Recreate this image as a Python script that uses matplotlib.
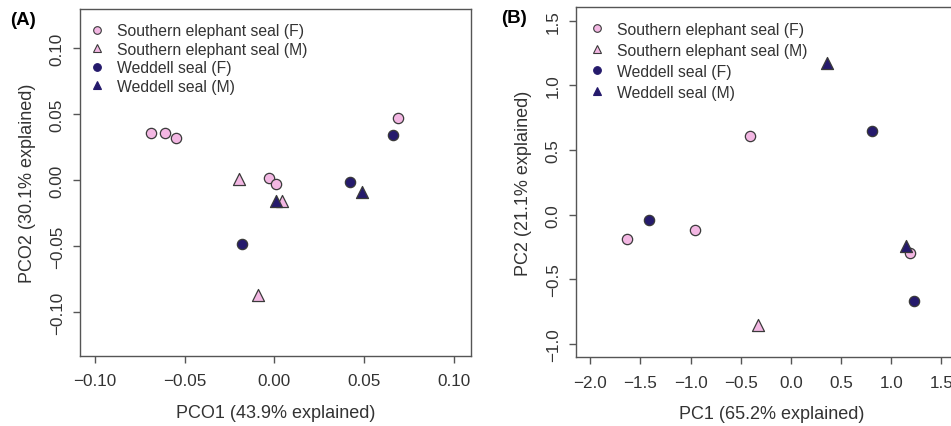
import matplotlib
matplotlib.use('Agg')
import matplotlib.pyplot as plt
from matplotlib.lines import Line2D

plt.rcParams['font.family'] = ['Liberation Sans', 'DejaVu Sans']

# colores
rosa = '#F3B7E3'
azul = '#251A6C'
borde = '#3a3a3a'
gris = '#555555'

# Panel A (PCO)
a_sel_f_x = [-0.069, -0.061, -0.055, -0.003, 0.001, 0.069]
a_sel_f_y = [0.036, 0.036, 0.032, 0.002, -0.003, 0.047]
a_sel_m_x = [-0.020, 0.004, -0.009]
a_sel_m_y = [0.001, -0.016, -0.087]
a_wed_f_x = [-0.018, 0.042, 0.066]
a_wed_f_y = [-0.048, -0.001, 0.034]
a_wed_m_x = [0.001, 0.049]
a_wed_m_y = [-0.016, -0.009]

# Panel B (PCA)
b_sel_f_x = [-0.41, -1.63, -0.96, 1.19]
b_sel_f_y = [0.61, -0.19, -0.12, -0.30]
b_sel_m_x = [-0.33]
b_sel_m_y = [-0.85]
b_wed_f_x = [0.81, -1.42, 1.23]
b_wed_f_y = [0.65, -0.04, -0.67]
b_wed_m_x = [0.36, 1.15]
b_wed_m_y = [1.17, -0.24]

etiquetas = ['Southern elephant seal (F)', 'Southern elephant seal (M)',
             'Weddell seal (F)', 'Weddell seal (M)']
ticks_a = [-0.10, -0.05, 0.00, 0.05, 0.10]
ticks_bx = [-2.0, -1.5, -1.0, -0.5, 0.0, 0.5, 1.0, 1.5]
ticks_by = [-1.0, -0.5, 0.0, 0.5, 1.0, 1.5]

fig = plt.figure(figsize=(9.51, 4.27), dpi=100)
ax1 = fig.add_axes([0.0841, 0.1639, 0.4111, 0.8126])
ax2 = fig.add_axes([0.6057, 0.1609, 0.4111, 0.8197])


def dibujar(ax, sf, sm, wf, wm, espacio, ancla):
    ax.scatter(sf[0], sf[1], s=55, marker='o', facecolor=rosa, edgecolor=borde, linewidth=0.9, zorder=3)
    ax.scatter(sm[0], sm[1], s=75, marker='^', facecolor=rosa, edgecolor=borde, linewidth=0.9, zorder=3)
    ax.scatter(wf[0], wf[1], s=55, marker='o', facecolor=azul, edgecolor=borde, linewidth=0.9, zorder=3)
    ax.scatter(wm[0], wm[1], s=75, marker='^', facecolor=azul, edgecolor=borde, linewidth=0.9, zorder=3)
    handles = [
        Line2D([], [], ls='', marker='o', ms=5.5, mfc=rosa, mec=borde, mew=0.8),
        Line2D([], [], ls='', marker='^', ms=6, mfc=rosa, mec=borde, mew=0.8),
        Line2D([], [], ls='', marker='o', ms=5.5, mfc=azul, mec=azul, mew=0.8),
        Line2D([], [], ls='', marker='^', ms=6, mfc=azul, mec=azul, mew=0.8),
    ]
    ax.legend(handles, etiquetas, loc='upper left', bbox_to_anchor=ancla, frameon=False,
              fontsize=11.3, handletextpad=0.86, labelspacing=espacio, borderaxespad=0,
              handlelength=0.8, borderpad=0.3, labelcolor='#333333')
    for s in ax.spines.values():
        s.set_color(gris)
        s.set_linewidth(1.0)
    ax.tick_params(colors=gris, labelcolor='#333333', labelsize=12.3, length=5, width=1.0, pad=6)
    ax.tick_params(axis='x', pad=7.5)


dibujar(ax1, (a_sel_f_x, a_sel_f_y), (a_sel_m_x, a_sel_m_y),
        (a_wed_f_x, a_wed_f_y), (a_wed_m_x, a_wed_m_y), 0.22, (0.016, 0.972))
ax1.set_xlim(-0.1084, 0.1095)
ax1.set_ylim(-0.1331, 0.1298)
ax1.set_xticks(ticks_a)
ax1.set_yticks(ticks_a)
ax1.set_xticklabels([f'{t:.2f}'.replace('-', '\u2212') for t in ticks_a])
ax1.set_yticklabels([f'{t:.2f}'.replace('-', '\u2212') for t in ticks_a], rotation=90, va='center')
ax1.set_xlabel('PCO1 (43.9% explained)', fontsize=13, color='#333333', labelpad=11)
ax1.set_ylabel('PCO2 (30.1% explained)', fontsize=13, color='#333333', labelpad=10)

dibujar(ax2, (b_sel_f_x, b_sel_f_y), (b_sel_m_x, b_sel_m_y),
        (b_wed_f_x, b_wed_f_y), (b_wed_m_x, b_wed_m_y), 0.38, (0.026, 0.972))
ax2.set_xlim(-2.143, 1.756)
ax2.set_ylim(-1.103, 1.604)
ax2.set_xticks(ticks_bx)
ax2.set_yticks(ticks_by)
ax2.set_xticklabels([f'{t:.1f}'.replace('-', '\u2212') for t in ticks_bx])
ax2.set_yticklabels([f'{t:.1f}'.replace('-', '\u2212') for t in ticks_by], rotation=90, va='center')
ax2.set_xlabel('PC1 (65.2% explained)', fontsize=13, color='#333333', labelpad=11)
ax2.set_ylabel('PC2 (21.1% explained)', fontsize=13, color='#333333', labelpad=10)

fig.text(0.0105, 0.953, '(A)', fontsize=13.5, fontweight='bold', va='center', ha='left')
fig.text(0.527, 0.957, '(B)', fontsize=13.5, fontweight='bold', va='center', ha='left')

fig.savefig('out.png', dpi=100)
